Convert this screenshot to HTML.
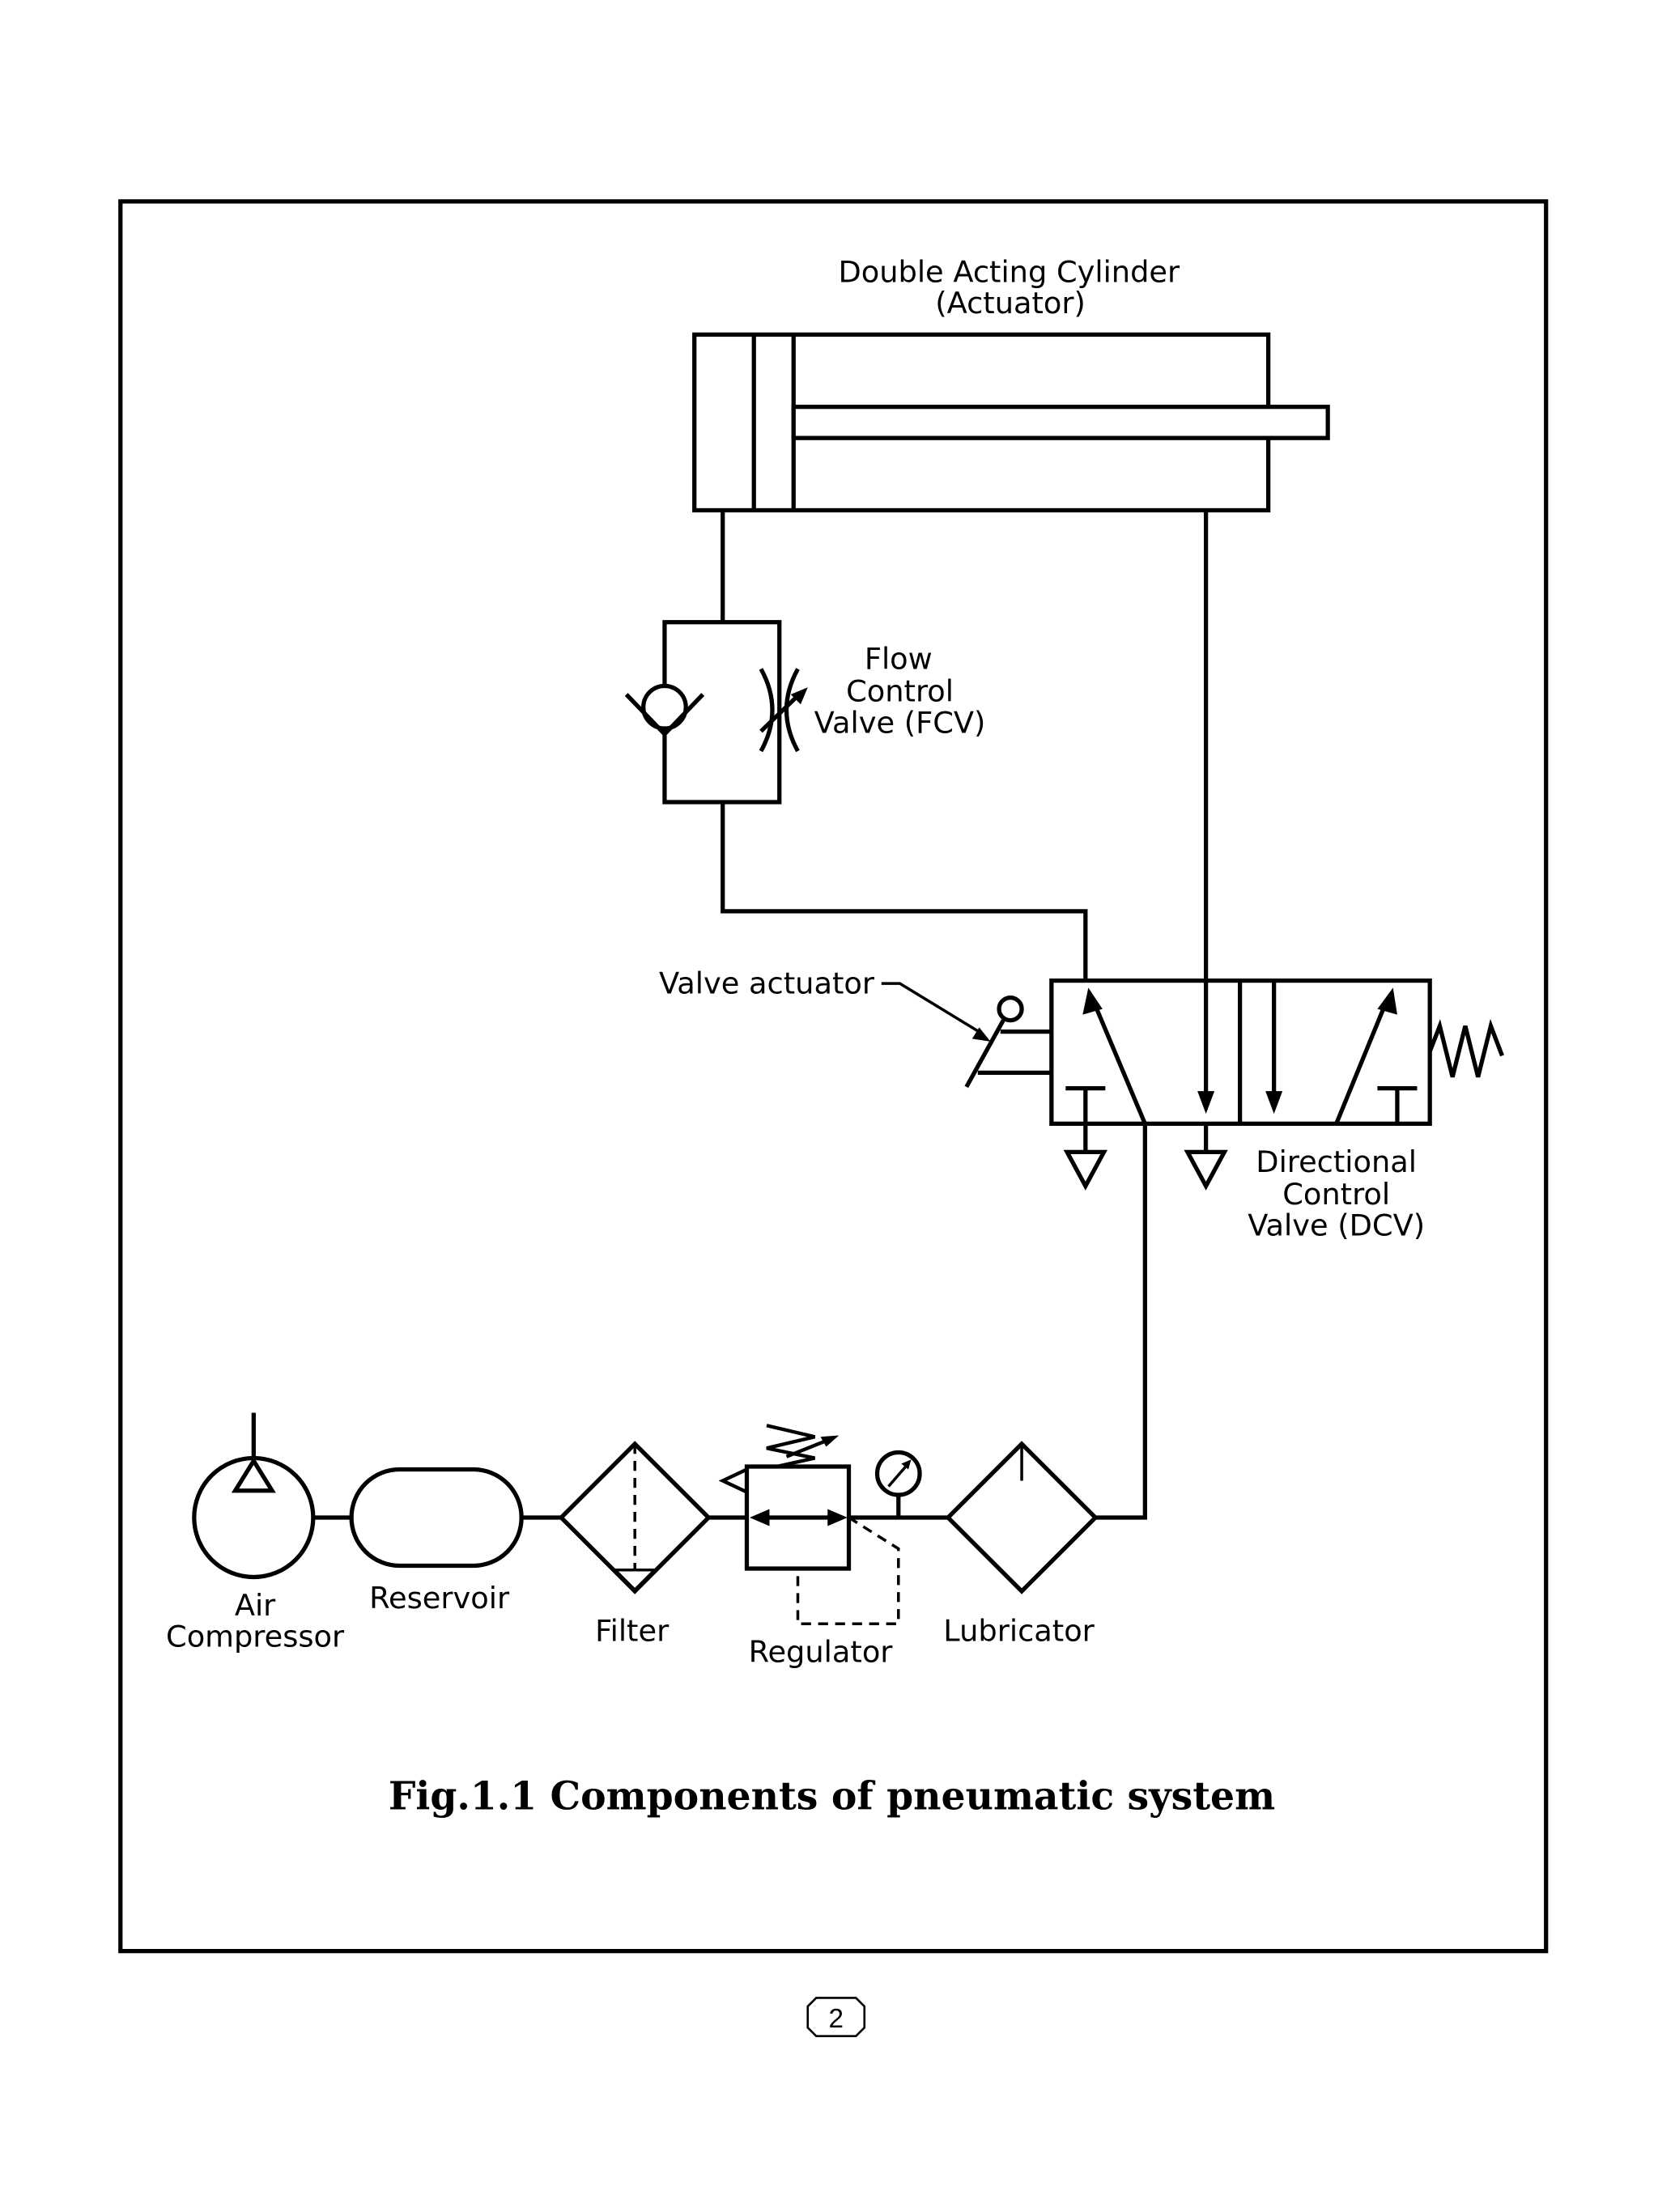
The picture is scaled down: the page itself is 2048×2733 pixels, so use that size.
<!DOCTYPE html>
<html><head><style>html,body{margin:0;padding:0;background:#fff}svg{display:block}</style></head>
<body>
<svg width="2048" height="2733" viewBox="0 0 1170 1561" xmlns="http://www.w3.org/2000/svg">
<g fill="none" stroke="#000" stroke-width="3" stroke-linejoin="miter">
<rect x="85" y="142" width="1006" height="1235"/>
<!-- cylinder -->
<rect x="490" y="236" width="405" height="124"/>
<line x1="532" y1="236" x2="532" y2="360"/>
<line x1="560" y1="236" x2="560" y2="360"/>
<rect x="560" y="287" width="377" height="22" fill="#fff"/>
<!-- left port to FCV -->
<line x1="510" y1="360" x2="510" y2="439"/>
<rect x="469" y="439" width="81" height="127"/>
<circle cx="469" cy="499" r="15" fill="#fff"/>
<polyline points="442,490 469,518 496,490"/>
<path d="M537,472 Q553,501 537,530"/>
<path d="M563,472 Q547,501 563,530"/>
<line x1="537" y1="516" x2="566" y2="488"/>
<polyline points="510,566 510,643 766,643 766,692"/>
<!-- right port -->
<line x1="851" y1="360" x2="851" y2="780"/>
<!-- DCV -->
<rect x="742" y="692" width="267" height="101"/>
<line x1="875" y1="692" x2="875" y2="793"/>
<line x1="808" y1="793" x2="771" y2="705"/>
<line x1="899" y1="692" x2="899" y2="780"/>
<line x1="943" y1="793" x2="979" y2="705"/>
<line x1="752" y1="768" x2="780" y2="768"/>
<line x1="766" y1="768" x2="766" y2="812"/>
<line x1="972" y1="768" x2="1000" y2="768"/>
<line x1="986" y1="768" x2="986" y2="793"/>
<line x1="851" y1="793" x2="851" y2="812"/>
<polygon points="753,813 779,813 766,837"/>
<polygon points="838,813 864,813 851,837"/>
<polyline points="1009,742 1016,724 1025,760 1034,724 1043,760 1052,724 1060,745"/>
<line x1="742" y1="728" x2="706" y2="728"/>
<line x1="742" y1="757" x2="690" y2="757"/>
<line x1="682" y1="767" x2="708" y2="720"/>
<circle cx="713" cy="712" r="8"/>
<polyline points="622,694 635,694 694,730" stroke-width="2"/>
<!-- supply -->
<polyline points="808,793 808,1071 773,1071"/>
<!-- bottom row -->
<circle cx="179" cy="1071" r="42"/>
<polygon points="166,1052 192,1052 179,1031"/>
<line x1="179" y1="997" x2="179" y2="1031"/>
<line x1="221" y1="1071" x2="248" y2="1071"/>
<rect x="248" y="1037" width="120" height="68" rx="34"/>
<line x1="368" y1="1071" x2="396" y2="1071"/>
<polygon points="396,1071 448,1019 500,1071 448,1123"/>
<line x1="448" y1="1019" x2="448" y2="1108" stroke-dasharray="7,5" stroke-width="2"/>
<polygon points="434,1108 462,1108 448,1122" stroke-width="2"/>
<line x1="500" y1="1071" x2="527" y2="1071"/>
<rect x="527" y="1035" width="72" height="72"/>
<line x1="535" y1="1071" x2="591" y2="1071"/>
<polyline points="527,1037 510,1045 527,1053" stroke-width="2.5"/>
<polyline points="548,1035 575,1029 541,1022 575,1014 541,1006" stroke-width="2.5"/>
<line x1="555" y1="1028" x2="585" y2="1016" stroke-width="2.5"/>
<polyline points="599,1071 634,1093 634,1146 563,1146 563,1107" stroke-dasharray="7,5" stroke-width="2"/>
<circle cx="634" cy="1040" r="15"/>
<line x1="627" y1="1049" x2="640" y2="1034" stroke-width="2"/>
<line x1="634" y1="1055" x2="634" y2="1071"/>
<line x1="599" y1="1071" x2="669" y2="1071"/>
<polygon points="669,1071 721,1019 773,1071 721,1123"/>
<line x1="721" y1="1019" x2="721" y2="1045" stroke-width="2"/>
<!-- page number -->
<polygon points="576,1410 604,1410 610,1416 610,1431 604,1437 576,1437 570,1431 570,1416" stroke-width="1.5"/>
</g>
<g fill="#000" stroke="none">
<polygon points="768,697 764,716 778,712"/>
<polygon points="851,786 845,770 857,770"/>
<polygon points="899,786 893,770 905,770"/>
<polygon points="983,697 972,712 986,716"/>
<polygon points="570,485 558,490 565,497"/>
<polygon points="699,735 686,733 691,725"/>
<polygon points="529,1071 543,1065 543,1077"/>
<polygon points="598,1071 584,1065 584,1077"/>
<polygon points="592,1013 579,1014 583,1021"/>
<polygon points="643,1030 636,1033 641,1037"/>
</g>
<g font-family="'DejaVu Sans','Liberation Sans',sans-serif" font-size="21" text-anchor="middle" fill="#000">
<text x="712" y="199">Double Acting Cylinder</text>
<text x="713" y="221">(Actuator)</text>
<text x="634" y="472">Flow</text>
<text x="635" y="495">Control</text>
<text x="635" y="517">Valve (FCV)</text>
<text x="541" y="701">Valve actuator</text>
<text x="943" y="827">Directional</text>
<text x="943" y="850">Control</text>
<text x="943" y="872">Valve (DCV)</text>
<text x="180" y="1140">Air</text>
<text x="180" y="1162">Compressor</text>
<text x="310" y="1135">Reservoir</text>
<text x="446" y="1158">Filter</text>
<text x="579" y="1173">Regulator</text>
<text x="719" y="1158">Lubricator</text>
<text x="590" y="1431" font-family="'Liberation Sans',sans-serif" font-size="19">2</text>
</g>
<text x="587" y="1277" text-anchor="middle" font-family="'DejaVu Serif','Liberation Serif',serif" font-weight="bold" font-size="27">Fig.1.1 Components of pneumatic system</text>
</svg>
</body></html>
